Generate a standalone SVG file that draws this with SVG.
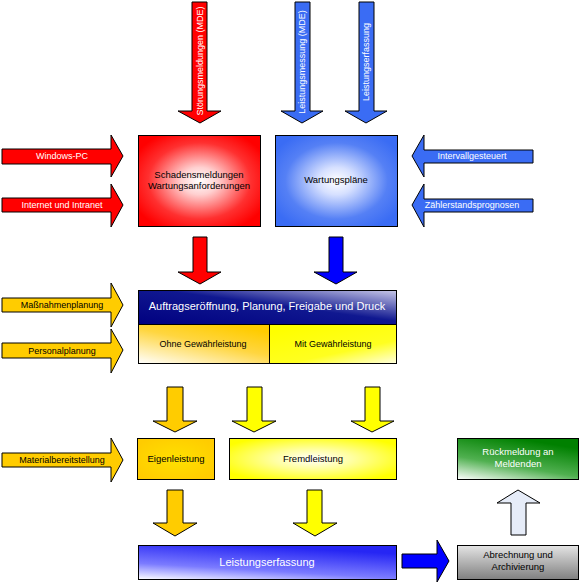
<svg xmlns="http://www.w3.org/2000/svg" width="580" height="584" viewBox="0 0 580 584">
<style>
  text { font-family: "Liberation Sans", Arial, sans-serif; font-size: 9px; text-anchor: middle; }
  .w { fill: #ffffff; }
  .k { fill: #000000; }
  .big { font-size: 11px; }
  .box { stroke: #000000; stroke-width: 1; }
  .arr { stroke: #000000; stroke-width: 1; stroke-linejoin: miter; }
  .red { fill: #ff0000; }
  .blu { fill: #3a6cf4; }
  .gold { fill: #ffcc00; }
  .yel { fill: #ffff00; }
  .pblue { fill: #0000ff; }
  .pale { fill: #e6ecf8; }
</style>
<defs>
  <radialGradient id="gRed" cx="0.5" cy="0.5" r="0.6">
    <stop offset="0" stop-color="#ffffff"/>
    <stop offset="0.25" stop-color="#ffd0d0"/>
    <stop offset="0.7" stop-color="#ff3030"/>
    <stop offset="1" stop-color="#ff0000"/>
  </radialGradient>
  <radialGradient id="gBlue" cx="0.5" cy="0.5" r="0.6">
    <stop offset="0" stop-color="#ffffff"/>
    <stop offset="0.25" stop-color="#d6e0ff"/>
    <stop offset="0.7" stop-color="#5580f5"/>
    <stop offset="1" stop-color="#3a6cf4"/>
  </radialGradient>
  <linearGradient id="gNavy" x1="0" y1="1" x2="1" y2="0">
    <stop offset="0" stop-color="#000080"/>
    <stop offset="0.55" stop-color="#101890"/>
    <stop offset="1" stop-color="#c8c8e8"/>
  </linearGradient>
  <linearGradient id="gOhne" x1="0" y1="1" x2="0.7" y2="0">
    <stop offset="0" stop-color="#ffffff"/>
    <stop offset="0.6" stop-color="#ffd640"/>
    <stop offset="1" stop-color="#ffcc00"/>
  </linearGradient>
  <linearGradient id="gMit" x1="0.3" y1="0" x2="1" y2="1">
    <stop offset="0" stop-color="#ffff00"/>
    <stop offset="0.6" stop-color="#ffff20"/>
    <stop offset="1" stop-color="#ffffe0"/>
  </linearGradient>
  <radialGradient id="gEigen" cx="0.5" cy="0.5" r="0.6">
    <stop offset="0" stop-color="#ffe000"/>
    <stop offset="1" stop-color="#ffcc00"/>
  </radialGradient>
  <radialGradient id="gFremd" cx="0.5" cy="0.5" r="0.6">
    <stop offset="0" stop-color="#ffffff"/>
    <stop offset="0.4" stop-color="#ffffa0"/>
    <stop offset="1" stop-color="#ffff00"/>
  </radialGradient>
  <linearGradient id="gLeist" x1="0" y1="1" x2="0.45" y2="0">
    <stop offset="0" stop-color="#ffffff"/>
    <stop offset="0.4" stop-color="#7b7bff"/>
    <stop offset="1" stop-color="#2626f4"/>
  </linearGradient>
  <linearGradient id="gAbr" x1="0" y1="0" x2="0" y2="1">
    <stop offset="0" stop-color="#e4e4e4"/>
    <stop offset="1" stop-color="#808080"/>
  </linearGradient>
  <linearGradient id="gRueck" x1="0" y1="1" x2="0.5" y2="0">
    <stop offset="0" stop-color="#ffffff"/>
    <stop offset="0.45" stop-color="#50b050"/>
    <stop offset="1" stop-color="#008000"/>
  </linearGradient>
</defs>

<g id="connectors">
  <polygon class="arr red" points="193,237 207,237 207,272 221,272 200,284 178,272 193,272"/>
  <polygon class="arr pblue" points="329,237 343,237 343,272 357,272 336,284 314,272 329,272"/>
  <polygon class="arr gold" points="167,387 183,387 183,421 197,421 175,432 153,421 167,421"/>
  <polygon class="arr yel" points="247,387 262,387 262,421 276,421 254,432 232,421 247,421"/>
  <polygon class="arr yel" points="365,387 380,387 380,421 394,421 372,432 351,421 365,421"/>
  <polygon class="arr gold" points="167,490 183,490 183,523 197,523 175,536 153,523 167,523"/>
  <polygon class="arr yel" points="307,490 322,490 322,523 337,523 315,536 293,523 307,523"/>
  <polygon class="arr pblue" points="402,554 437,554 437,540 449,561 437,582 437,568 402,568"/>
  <polygon class="arr pale" points="511,535 526,535 526,503 540,503 518,490 497,503 511,503"/>
</g>

<g id="in-stoerung">
  <polygon class="arr red" points="192,2 207,2 207,111 221,111 200,123 178,111 192,111"/>
  <text class="w" transform="translate(203,61) rotate(-90)">Störungsmeldungen (MDE)</text>
</g>
<g id="in-leistungsmessung">
  <polygon class="arr blu" points="295,2 310,2 310,111 323,111 302,123 281,111 295,111"/>
  <text class="w" transform="translate(305,62) rotate(-90)">Leistungsmessung (MDE)</text>
</g>
<g id="in-leistungserfassung">
  <polygon class="arr blu" points="359,2 374,2 374,111 387,111 366,123 345,111 359,111"/>
  <text class="w" transform="translate(369,62) rotate(-90)">Leistungserfassung</text>
</g>
<g id="in-windows">
  <polygon class="arr red" points="2,149 111,149 111,135 123,156 111,177 111,164 2,164"/>
  <text class="w" x="62" y="159">Windows-PC</text>
</g>
<g id="in-internet">
  <polygon class="arr red" points="2,198 111,198 111,184 123,205 111,227 111,212 2,212"/>
  <text class="w" x="62" y="208">Internet und Intranet</text>
</g>
<g id="in-intervall">
  <polygon class="arr blu" points="533,150 424,150 424,135 412,156 424,177 424,163 533,163"/>
  <text class="w" x="472" y="159">Intervallgesteuert</text>
</g>
<g id="in-zaehler">
  <polygon class="arr blu" points="533,199 424,199 424,184 412,205 424,227 424,212 533,212"/>
  <text class="w" x="472" y="208">Zählerstandsprognosen</text>
</g>
<g id="in-massnahmen">
  <polygon class="arr gold" points="2,298 111,298 111,283 123,305 111,327 111,312 2,312"/>
  <text class="k" x="62" y="308">Maßnahmenplanung</text>
</g>
<g id="in-personal">
  <polygon class="arr gold" points="2,343 111,343 111,329 123,350 111,373 111,358 2,358"/>
  <text class="k" x="62" y="354">Personalplanung</text>
</g>
<g id="in-material">
  <polygon class="arr gold" points="2,453 111,453 111,438 123,460 111,482 111,467 2,467"/>
  <text class="k" x="62" y="463">Materialbereitstellung</text>
</g>

<g id="schadensmeldungen">
  <rect class="box" x="138.5" y="135.5" width="122" height="91" fill="url(#gRed)"/>
  <text class="k" x="199" y="178" style="font-size:9.5px">Schadensmeldungen</text>
  <text class="k" x="199" y="189" style="font-size:9.5px">Wartungsanforderungen</text>
</g>
<g id="wartungsplaene">
  <rect class="box" x="275.5" y="135.5" width="122" height="91" fill="url(#gBlue)"/>
  <text class="k" x="336" y="183" style="font-size:9.5px">Wartungspläne</text>
</g>
<g id="auftrag">
  <rect x="138.5" y="290.5" width="258" height="34" fill="url(#gNavy)"/>
  <rect x="138.5" y="324.5" width="131" height="39" fill="url(#gOhne)"/>
  <rect x="269.5" y="324.5" width="127" height="39" fill="url(#gMit)"/>
  <rect class="box" x="138.5" y="290.5" width="258" height="73" fill="none"/>
  <line x1="138.5" y1="324.5" x2="396.5" y2="324.5" stroke="#000" stroke-width="1"/>
  <line x1="269.5" y1="324.5" x2="269.5" y2="363.5" stroke="#000" stroke-width="1"/>
  <text class="w big" x="267" y="310">Auftragseröffnung, Planung, Freigabe und Druck</text>
  <text class="k" x="203" y="347">Ohne Gewährleistung</text>
  <text class="k" x="333" y="347">Mit Gewährleistung</text>
</g>
<g id="eigenleistung">
  <rect class="box" x="137.5" y="438.5" width="77" height="41" fill="url(#gEigen)"/>
  <text class="k" x="176" y="462" style="font-size:9.5px">Eigenleistung</text>
</g>
<g id="fremdleistung">
  <rect class="box" x="229.5" y="438.5" width="167" height="41" fill="url(#gFremd)"/>
  <text class="k" x="313" y="462" style="font-size:9.5px">Fremdleistung</text>
</g>
<g id="rueckmeldung">
  <rect class="box" x="457.5" y="438.5" width="121" height="41" fill="url(#gRueck)"/>
  <text class="w" x="518" y="455" style="font-size:9.5px">Rückmeldung an</text>
  <text class="w" x="518" y="467" style="font-size:9.5px">Meldenden</text>
</g>
<g id="leistungserfassung">
  <rect class="box" x="138.5" y="545.5" width="258" height="34" fill="url(#gLeist)"/>
  <text class="w big" x="267" y="566">Leistungserfassung</text>
</g>
<g id="abrechnung">
  <rect class="box" x="457.5" y="545.5" width="121" height="34" fill="url(#gAbr)"/>
  <text class="k" x="518" y="558" style="font-size:9.5px">Abrechnung und</text>
  <text class="k" x="518" y="570" style="font-size:9.5px">Archivierung</text>
</g>
</svg>
